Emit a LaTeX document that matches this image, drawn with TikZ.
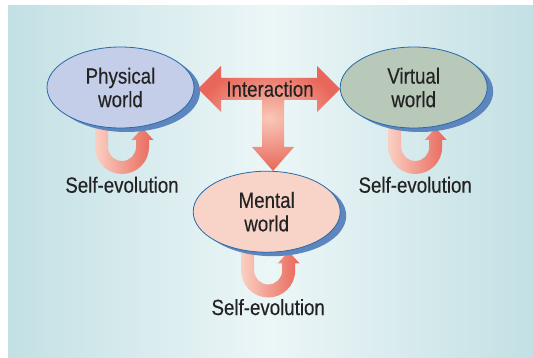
\documentclass[tikz,border=0pt]{standalone}
\usepackage{fontspec}
\setmainfont{Liberation Sans}[FakeStretch=0.85,FakeBold=0.35]
\usetikzlibrary{shapes.geometric,shadows}
\definecolor{bgedge}{RGB}{195,224,228}
\definecolor{bgmid}{RGB}{236,246,247}
\definecolor{arrowred}{RGB}{232,103,90}
\definecolor{arrowlight}{RGB}{249,200,184}
\definecolor{ulight}{RGB}{250,208,195}
\definecolor{ellborder}{RGB}{40,105,168}
\definecolor{shadowblue}{RGB}{94,134,190}
\definecolor{physfill}{RGB}{197,206,232}
\definecolor{virtfill}{RGB}{184,201,185}
\definecolor{mentfill}{RGB}{248,212,200}
\definecolor{txt}{RGB}{35,35,35}
\begin{document}
\begin{tikzpicture}[x=1pt,y=-1pt,
  world/.style={ellipse, draw=ellborder, line width=0.8pt, minimum width=147pt,
    minimum height=81pt, inner sep=0pt, align=center, text=txt,
    font=\fontsize{22}{23.5}\selectfont,
    general shadow={fill=shadowblue, shadow xshift=6pt, shadow yshift=-4pt}},
  lbl/.style={text=txt, font=\fontsize{22}{23.5}\selectfont, inner sep=0pt, anchor=base},
  selfloop/.pic={
    \shade[left color=ulight, right color=arrowred]
      (-27,-24) -- (-27,0) arc[start angle=180,end angle=360,radius=27pt]
      -- (27,-7) -- (31.5,-7) -- (20.5,-19) -- (9.5,-7) -- (14,-7) -- (14,0)
      arc[start angle=0,end angle=-180,radius=14pt] -- (-14,-24) -- cycle;
  }
]
\useasboundingbox (0,0) rectangle (533,358);
\fill[white] (0,0) rectangle (533,358);
\shade[left color=bgedge, right color=bgmid] (8,6) rectangle (271,358);
\shade[left color=bgmid, right color=bgedge] (270,6) rectangle (533,358);

% self-evolution loops
\pic at (122,147) {selfloop};
\pic at (415.2,147) {selfloop};
\pic at (268.2,270.5) {selfloop};

% interaction T arrow
\shade[inner color=arrowlight, outer color=arrowred]
  (198,89) -- (221,66) -- (221,78) -- (317,78) -- (317,66) -- (340,89)
  -- (317,112) -- (317,100) -- (284,100) -- (284,147) -- (294,147)
  -- (273,171) -- (252,147) -- (262,147) -- (262,100) -- (221,100)
  -- (221,112) -- cycle;

% worlds
\node[world, fill=physfill] (P) at (120.5,87.5) {Physical\\world};
\node[world, fill=virtfill] (V) at (413.7,87.5) {Virtual\\world};
\node[world, fill=mentfill] (M) at (266.7,211.7) {Mental\\world};

% labels
\node[lbl] (I) at (270,96.7) {Interaction};
\node[lbl] (SP) at (122,192.7) {Self-evolution};
\node[lbl] (SV) at (415.2,192.7) {Self-evolution};
\node[lbl] (SM) at (268.2,315) {Self-evolution};
\end{tikzpicture}
\end{document}
